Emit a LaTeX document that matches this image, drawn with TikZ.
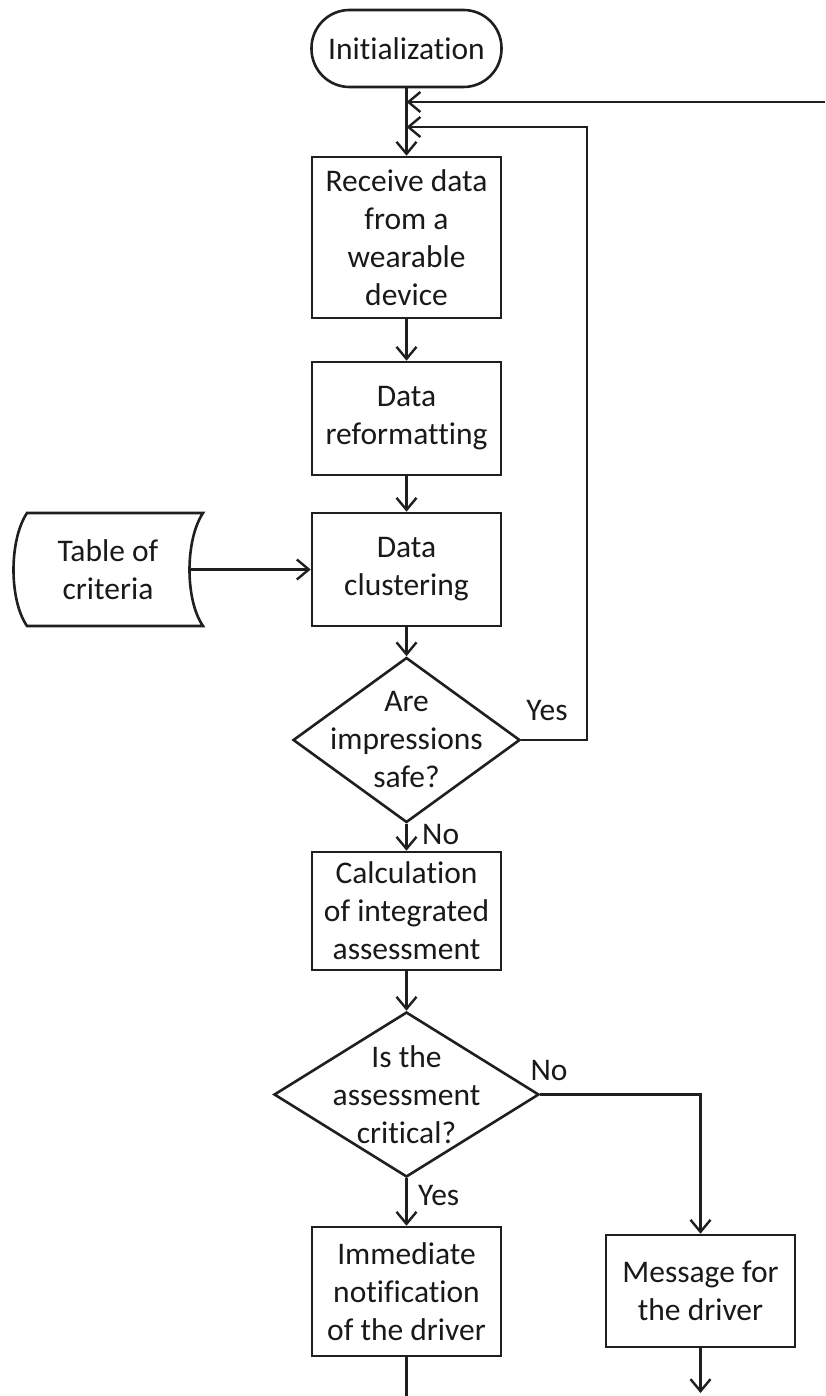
\documentclass[tikz,border=0pt]{standalone}
\usepackage{fontspec}
\setmainfont{Carlito}[Ligatures=NoCommon]
\usetikzlibrary{arrows.meta,shapes.geometric}
\begin{document}
\begin{tikzpicture}[x=1pt,y=-1pt,
  every node/.style={font=\fontsize{31.5}{38}\selectfont, text=black!90, align=center, inner sep=0pt},
  line/.style={line width=2.6pt, draw=black!88},
  arr/.style={line, -{Straight Barb[length=12pt,width=20pt,line width=2.4pt]}},
  procbox/.style={line, draw, rectangle, minimum width=189pt},
  termbox/.style={line, draw, rectangle, rounded corners=38pt, minimum width=190pt, minimum height=77pt},
  decbox/.style={line, draw, diamond, inner sep=0pt}
]
\useasboundingbox (0,0) rectangle (825,1396);

\node[termbox] (init) at (406.5,48.5) {Initialization};
\node[procbox, minimum height=161pt] (recv) at (406.5,237.5) {Receive data\\from a\\wearable\\device};
\node[procbox, minimum height=113pt] (refmt) at (406.5,418.5) {Data\\reformatting};
\node[procbox, minimum height=113pt] (clust) at (406.5,569.5) {Data\\clustering};

% stored data shape
\draw[line] (27,513) -- (203,513) .. controls (185,540) and (185,600) .. (203,626)
  -- (27,626) .. controls (9,600) and (9,540) .. (27,513) -- cycle;
\coordinate (tabr) at (190,569.5);
\node (tab) at (108,569.5) {Table of\\criteria};

\node[decbox, minimum width=227pt, minimum height=165pt] (d1) at (406.5,740) {};
\node (d1t) at (406.5,740) {Are\\impressions\\safe?};

\node[procbox, minimum height=118pt] (calc) at (406.5,911) {Calculation\\of integrated\\assessment};

\node[decbox, minimum width=265pt, minimum height=165pt] (d2) at (406.5,1094.5) {};
\node (d2t) at (406.5,1094.5) {Is the\\assessment\\critical?};

\node[procbox, minimum height=129pt] (notif) at (406.5,1291.5) {Immediate\\notification\\of the driver};
\node[procbox, minimum height=112pt] (msg) at (700.5,1291) {Message for\\the driver};

% coordinates
\coordinate (e1) at (825,102);
\coordinate (j1) at (406.5,102);
\coordinate (j2) at (406.5,127);
\coordinate (r1) at (587,740);
\coordinate (r2) at (587,127);
\coordinate (bot1) at (406.5,1396);
\coordinate (bot2) at (700.5,1393);

% connectors
\draw[arr] (init.south) -- (recv.north);
\draw[arr] (e1) -- (j1);
\draw[arr] (d1.east) -- (r1) -- (r2) -- (j2);
\draw[arr] (recv.south) -- (refmt.north);
\draw[arr] (refmt.south) -- (clust.north);
\draw[arr] (tabr) -- (clust.west);
\draw[arr] (clust.south) -- (d1.north);
\draw[arr] (d1.south) -- (calc.north);
\draw[arr] (calc.south) -- (d2.north);
\draw[arr] (d2.south) -- (notif.north);
\draw[arr] (d2.east) -| (msg.north);
\draw[line] (notif.south) -- (bot1);
\draw[arr] (msg.south) -- (bot2);

% labels
\node (lyes1) at (547,711) {Yes};
\node[anchor=west] (lno1) at (422,834) {No};
\node (lno2) at (549,1070) {No};
\node[anchor=west] (lyes2) at (418,1195) {Yes};
\end{tikzpicture}
\end{document}
